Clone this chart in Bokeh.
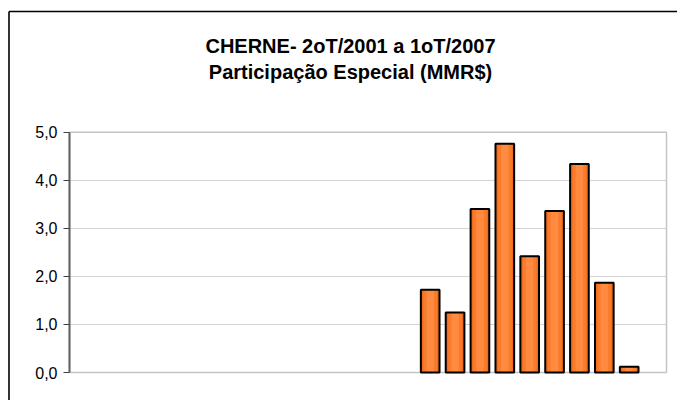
from bokeh.plotting import figure
from bokeh.models import FixedTicker, ColumnDataSource, Range1d
from bokeh.core.properties import value
from bokeh.embed import file_html
from bokeh.resources import INLINE

# ---- data ----
quarters = [
    "2T/2001", "3T/2001", "4T/2001",
    "1T/2002", "2T/2002", "3T/2002", "4T/2002",
    "1T/2003", "2T/2003", "3T/2003", "4T/2003",
    "1T/2004", "2T/2004", "3T/2004", "4T/2004",
    "1T/2005", "2T/2005", "3T/2005", "4T/2005",
    "1T/2006", "2T/2006", "3T/2006", "4T/2006",
    "1T/2007",
]
nan = float("nan")
participacao = [
    nan, nan, nan,
    nan, nan, nan, nan,
    nan, nan, nan, nan,
    nan, nan, nan, 1.72,
    1.25, 3.40, 4.76, 2.42,
    3.36, 4.34, 1.87, 0.12,
    nan,
]
y_ticks = [0, 1, 2, 3, 4, 5]
y_tick_labels = ["0,0", "1,0", "2,0", "3,0", "4,0", "5,0"]
title_lines = ["CHERNE- 2oT/2001 a 1oT/2007", "Participação Especial (MMR$)"]

FONT = "Liberation Sans"
W, H = 677, 400

# pixel geometry of the plot area inside the canvas
PL, PR, PT, PB = 69, 666, 131.7, 372
n = len(quarters)
ymax = y_ticks[-1]
kx = (PR - PL) / n          # px per category
ky = (PB - PT) / ymax       # px per unit

def dx(px):
    return (px - PL) / kx

def dy(py):
    return (PB - py) / ky

p = figure(
    width=W, height=H,
    x_range=Range1d(dx(0), dx(W)),
    y_range=Range1d(dy(H), dy(0)),
    output_backend="svg",
    toolbar_location=None,
    min_border=0,
)
p.background_fill_color = "white"
p.border_fill_color = "white"
p.outline_line_color = None
p.xaxis.visible = False
p.xgrid.visible = False

# grid lines limited to the plot area
g = p.ygrid[0]
g.ticker = FixedTicker(ticks=y_ticks)
if "cross_bounds" in g.properties():
    g.cross_bounds = (0, n)
    g.grid_line_color = "#d4d4d4"
    g.grid_line_width = 1
else:
    g.visible = False
    p.segment(x0=[0] * len(y_ticks), x1=[n] * len(y_ticks), y0=y_ticks, y1=y_ticks,
              line_color="#d4d4d4", line_width=1)

# outer chart border: only its top and left edges fall inside the window
p.segment(x0=[dx(8.5), dx(8.5)], y0=[dy(11), dy(11)],
          x1=[dx(8.5), dx(W)], y1=[dy(H), dy(11)],
          line_color="black", line_width=1.6)

# plot-area border
p.quad(left=0, right=n, top=ymax, bottom=0,
       fill_color=None, line_color="#c4c4c4", line_width=1.5)

# bars: gradient imitation with layered fills, then outline
bar_x = [i + 0.5 for i in range(n)]
src = ColumnDataSource(dict(x=bar_x, top=participacao, q=quarters))
p.vbar(x="x", top="top", bottom=0, width=0.75, source=src,
       fill_color="#F06C1C", line_color=None)
p.vbar(x="x", top="top", bottom=0, width=0.55, source=src,
       fill_color="#F97C2C", line_color=None)
p.vbar(x="x", top="top", bottom=0, width=0.3, source=src,
       fill_color="#FF8A40", line_color=None)
p.vbar(x="x", top="top", bottom=0, width=0.75, source=src,
       fill_color=None, line_color="black", line_width=2)

# y axis drawn at x=0 inside the canvas
ya = p.yaxis[0]
ya.fixed_location = 0
ya.bounds = (0, ymax)
ya.ticker = FixedTicker(ticks=y_ticks)
ya.major_label_overrides = {t: s for t, s in zip(y_ticks, y_tick_labels)}
ya.major_label_text_font = FONT
ya.major_label_text_font_size = "16px"
ya.major_label_text_color = "black"
ya.major_label_standoff = 6
ya.major_tick_out = 6
ya.major_tick_in = 0
ya.minor_tick_line_color = None
ya.major_tick_line_color = "#404040"
ya.axis_line_color = "#606060"
ya.axis_line_width = 2

# title
tsrc = ColumnDataSource(dict(x=[dx(350), dx(350)], y=[dy(45), dy(71)], t=title_lines))
p.text(x="x", y="y", text="t", source=tsrc,
       text_font=value(FONT), text_font_size="20px",
       text_font_style="bold", text_align="center",
       text_baseline="alphabetic", text_color="black")

open("out.html", "w").write(file_html(p, INLINE))
